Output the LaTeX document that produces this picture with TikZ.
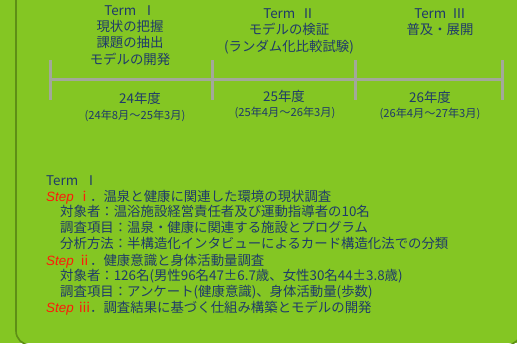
\documentclass[tikz,border=0pt]{standalone}
\usepackage{fontspec}
\setmainfont{Noto Sans CJK JP}
\newfontfamily\stepfont{Liberation Sans}
\definecolor{bggreen}{HTML}{84C623}
\definecolor{edgegreen}{HTML}{5E8F16}
\definecolor{navy}{HTML}{1F3A6A}
\definecolor{stepred}{HTML}{FF1A0A}
\definecolor{tlgray}{HTML}{A3A89A}
\tikzset{
  txt/.style={inner sep=0pt, text=navy, font=\fontsize{13.4}{15}\selectfont, text height=0.88em, text depth=0.12em},
  small/.style={txt, font=\fontsize{11.2}{12}\selectfont},
  lft/.style={txt, anchor=west},
  tl/.style={draw=tlgray, line width=3pt},
  frame/.style={draw=edgegreen, line width=1.6pt, rounded corners=14pt}
}
\newcommand{\stp}[1]{{\color{stepred}\stepfont\itshape Step}\hspace{4pt}{\color{stepred}#1}\hspace{-1pt}}
\begin{document}
\begin{tikzpicture}[x=1pt,y=-1pt]
\useasboundingbox (0,0) rectangle (517,343);
\fill[bggreen] (0,0) rectangle (517,343);
\draw[frame] (16,-10) -- (16,345) -- (521,345) -- (521,-10);
% timeline
\coordinate (t0) at (50,79);
\coordinate (t1) at (212,79);
\coordinate (t2) at (355,79);
\coordinate (t3) at (502,79);
\draw[tl] (t0) -- (t3);
\foreach \c in {t0,t1,t2,t3}{
  \draw[tl] ([yshift=-21pt]\c) -- ([yshift=19pt]\c);
}
% Term I header
\node[txt] (a1) at (130,12) {Term\ \ Ⅰ};
\node[txt] (a2) at (130,28) {現状の把握};
\node[txt] (a3) at (130,44) {課題の抽出};
\node[txt] (a4) at (130,61) {モデルの開発};
% Term II header
\node[txt] (b1) at (289,15) {Term\ \ Ⅱ};
\node[txt] (b2) at (289,31) {モデルの検証};
\node[txt] (b3) at (289,48) {(ランダム化比較試験)};
% Term III header
\node[txt] (c1) at (440,15) {Term\ \ Ⅲ};
\node[txt] (c2) at (440,31) {普及・展開};
% years
\node[txt] (y1) at (140,100) {24年度};
\node[small] (p1) at (135,116) {(24年8月～25年3月)};
\node[txt] (y2) at (284,98) {25年度};
\node[small] (p2) at (285,113) {(25年4月～26年3月)};
\node[txt] (y3) at (430,99) {26年度};
\node[small] (p3) at (430,114) {(26年4月～27年3月)};
% body text
\node[lft] (l0) at (46,182) {Term\ \ Ⅰ};
\node[lft] (l1) at (46,198) {\stp{ⅰ}．温泉と健康に関連した環境の現状調査};
\node[lft] (l2) at (60,213) {対象者：温浴施設経営責任者及び運動指導者の10名};
\node[lft] (l3) at (60,229) {調査項目：温泉・健康に関連する施設とプログラム};
\node[lft] (l4) at (60,245) {分析方法：半構造化インタビューによるカード構造化法での分類};
\node[lft] (l5) at (46,262) {\stp{ⅱ}．健康意識と身体活動量調査};
\node[lft] (l6) at (60,277) {対象者：126名(男性96名47±6.7歳、女性30名44±3.8歳)};
\node[lft] (l7) at (60,293) {調査項目：アンケート(健康意識)、身体活動量(歩数)};
\node[lft] (l8) at (46,309) {\stp{ⅲ}．調査結果に基づく仕組み構築とモデルの開発};
\end{tikzpicture}
\end{document}
